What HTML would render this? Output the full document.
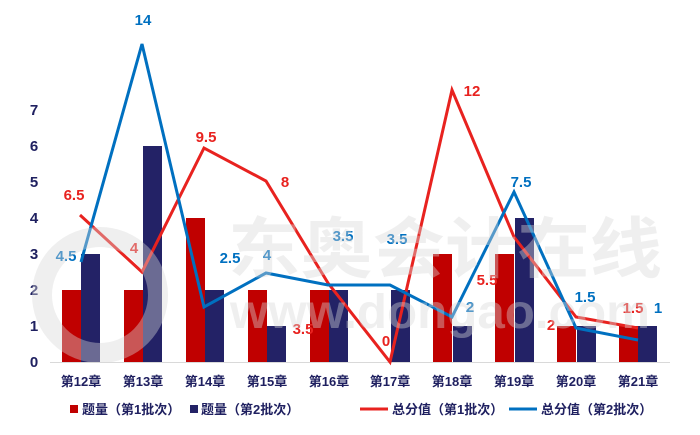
<!DOCTYPE html>
<html><head><meta charset="utf-8"><style>
body{margin:0;background:#fff;}
svg text{font-family:"Liberation Sans","Noto Sans CJK SC",sans-serif;font-weight:bold;}
</style></head><body>
<svg width="700" height="430" xmlns="http://www.w3.org/2000/svg">
<rect width="700" height="430" fill="#fff"/>
<g fill="#1f2060" font-size="15" text-anchor="middle">
<text x="34" y="367">0</text><text x="34" y="331">1</text><text x="34" y="295">2</text><text x="34" y="259">3</text><text x="34" y="223">4</text><text x="34" y="187">5</text><text x="34" y="151">6</text><text x="34" y="115">7</text>
</g>
<line x1="50" y1="362.5" x2="670" y2="362.5" stroke="#d9d9d9" stroke-width="1"/>
<g fill="#c00000">
<rect x="62" y="290" width="19" height="72"/><rect x="124" y="290" width="19" height="72"/><rect x="186" y="218" width="19" height="144"/><rect x="248" y="290" width="19" height="72"/><rect x="310" y="290" width="19" height="72"/><rect x="433" y="254" width="19" height="108"/><rect x="495" y="254" width="19" height="108"/><rect x="557" y="326" width="19" height="36"/><rect x="619" y="326" width="19" height="36"/>
</g>
<g fill="#232266">
<rect x="81" y="254" width="19" height="108"/><rect x="143" y="146" width="19" height="216"/><rect x="205" y="290" width="19" height="72"/><rect x="267" y="326" width="19" height="36"/><rect x="329" y="290" width="19" height="72"/><rect x="391" y="290" width="19" height="72"/><rect x="453" y="326" width="19" height="36"/><rect x="515" y="218" width="19" height="144"/><rect x="577" y="326" width="19" height="36"/><rect x="638" y="326" width="19" height="36"/>
</g>
<polyline fill="none" stroke="#e8221f" stroke-width="3" points="80,215 142,272 204,148 266,181 328,283 390,362 452,90 514,237 576,317 638,328"/>
<polyline fill="none" stroke="#0070c0" stroke-width="3" points="81,262 142,44 204,307 266,273 328,285 390,285 452,317 514,192 576,328 638,340"/>
<g fill="#e8221f" font-size="15" text-anchor="middle">
<text x="74" y="200">6.5</text><text x="134" y="253">4</text><text x="206" y="142">9.5</text><text x="285" y="187">8</text><text x="303" y="334">3.5</text><text x="386" y="346">0</text><text x="472" y="96">12</text><text x="487" y="285">5.5</text><text x="551" y="330">2</text><text x="633" y="313">1.5</text>
</g>
<g fill="#0070c0" font-size="15" text-anchor="middle">
<text x="66" y="261">4.5</text><text x="143" y="25">14</text><text x="230" y="263">2.5</text><text x="267" y="260">4</text><text x="343" y="241">3.5</text><text x="397" y="244">3.5</text><text x="470" y="312">2</text><text x="521" y="187">7.5</text><text x="585" y="302">1.5</text><text x="658" y="313">1</text>
</g>
<g fill="#1f2060" font-size="13" text-anchor="middle">
<text x="81" y="386">第12章</text><text x="143" y="386">第13章</text><text x="205" y="386">第14章</text><text x="267" y="386">第15章</text><text x="329" y="386">第16章</text><text x="390" y="386">第17章</text><text x="452" y="386">第18章</text><text x="514" y="386">第19章</text><text x="576" y="386">第20章</text><text x="638" y="386">第21章</text>
</g>
<g font-size="13" fill="#1f2060">
<rect x="70" y="405" width="8" height="8" fill="#c00000"/><text x="82" y="414">题量（第1批次）</text>
<rect x="190" y="405" width="8" height="8" fill="#232266"/><text x="201" y="414">题量（第2批次）</text>
<line x1="360" y1="409" x2="388" y2="409" stroke="#e8221f" stroke-width="3"/><text x="392" y="414">总分值（第1批次）</text>
<line x1="509" y1="409" x2="537" y2="409" stroke="#0070c0" stroke-width="3"/><text x="541" y="414">总分值（第2批次）</text>
</g>
<g opacity="0.4" fill="#d8d8d8">
<circle cx="100" cy="295" r="58" fill="none" stroke="#d8d8d8" stroke-width="20"/>
<text x="228" y="272" font-size="66" textLength="434" lengthAdjust="spacingAndGlyphs" font-family="Noto Sans CJK SC,sans-serif">东奥会计在线</text>
<text x="230" y="328" font-size="48" textLength="420" lengthAdjust="spacingAndGlyphs">www.dongao.com</text>
</g>
</svg>
</body></html>
